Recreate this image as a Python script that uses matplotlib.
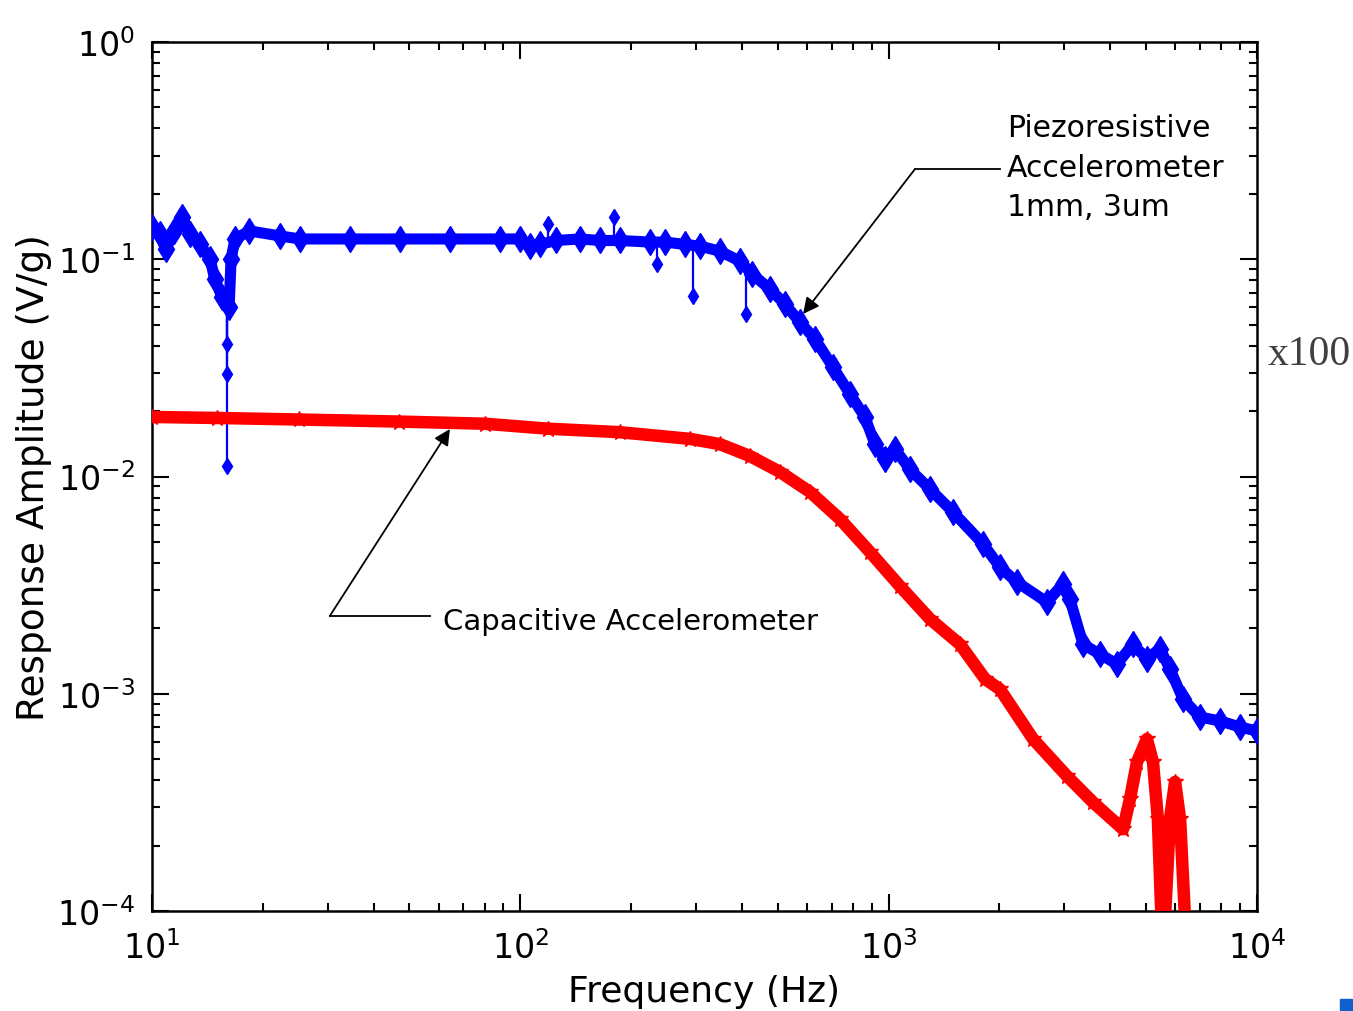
import numpy as np
import matplotlib.pyplot as plt
from matplotlib.patches import Rectangle
from matplotlib.ticker import LogLocator, NullFormatter

# === DATA ===
# piezoresistive accelerometer, 1mm 3um (blue band)
piezo_freq = [10.0, 10.5, 10.9, 11.5, 12.1, 12.7, 13.5, 14.4, 14.8, 15.5, 16.2, 16.4,
              16.8, 18.4, 22.3, 25.2, 34.5, 47.1, 64.4, 88.1, 100, 106, 113, 125,
              145, 165, 186, 225, 247, 280, 307, 348, 395, 426, 476, 523, 574, 631,
              706, 785, 862, 918, 977, 1040, 1142, 1295, 1495, 1805, 2005, 2228,
              2692, 2974, 3105, 3372, 3750, 4169, 4605, 5024, 5454, 5805, 6300,
              7003, 7937, 8993, 10000]
piezo_amp = [0.141, 0.131, 0.111, 0.135, 0.156, 0.131, 0.117, 0.100, 0.081, 0.067,
             0.060, 0.100, 0.124, 0.135, 0.128, 0.124, 0.124, 0.124, 0.124, 0.124,
             0.124, 0.115, 0.117, 0.122, 0.124, 0.122, 0.122, 0.120, 0.120, 0.117,
             0.115, 0.109, 0.098, 0.0855, 0.073, 0.0622, 0.0514, 0.0430, 0.0319,
             0.0240, 0.0188, 0.0141, 0.0120, 0.0134, 0.0108, 0.00876, 0.00687,
             0.00489, 0.00383, 0.00327, 0.00264, 0.0032, 0.00273, 0.00169, 0.00152,
             0.00137, 0.00169, 0.00145, 0.00161, 0.0013, 0.000946, 0.000781,
             0.00075, 0.000703, 0.000674]

# isolated outliers sticking out of the blue band
spike_freq = [16.0, 16.0, 16.0, 119, 180, 235, 294, 410]
spike_amp = [0.0407, 0.0296, 0.0112, 0.145, 0.156, 0.095, 0.068, 0.056]

# capacitive accelerometer (red band)
cap_freq = [10, 15, 25, 47, 80, 119, 186, 289, 348, 420, 507, 612, 738, 890, 1073,
            1295, 1562, 1827, 2005, 2467, 3050, 3586, 4329, 4522, 4725, 5024, 5222,
            5383, 5556, 5805, 5994, 6186, 6460]
cap_amp = [0.0188, 0.0186, 0.0183, 0.0179, 0.0175, 0.0166, 0.0160, 0.0149, 0.0141,
           0.01243, 0.0105, 0.00849, 0.00637, 0.00449, 0.00313, 0.00221, 0.00169,
           0.00117, 0.00105, 0.000619, 0.000418, 0.000317, 0.000238, 0.000328,
           0.000485, 0.000619, 0.000485, 0.000265, 0.00006, 0.000265, 0.000393,
           0.000265, 0.00006]

plt.rcParams['font.family'] = ['DejaVu Sans']
plt.rcParams['mathtext.default'] = 'regular'

fig = plt.figure(figsize=(13.53, 10.12), dpi=100)
ax = fig.add_axes([0.1123, 0.0988, 0.8167, 0.8587])

# blue curve + its spikes
base = 10 ** np.interp(np.log10(spike_freq), np.log10(piezo_freq), np.log10(piezo_amp))
ax.vlines(spike_freq, base, spike_amp, color='#0000ff', lw=1.6, zorder=2)
ax.plot(spike_freq, spike_amp, 'd', color='#0000ff', ms=8, zorder=2)
ax.plot(piezo_freq, piezo_amp, '-d', color='#0000ff', lw=8, ms=13, zorder=3)

# red curve
ax.plot(cap_freq, cap_amp, '-*', color='#ff0000', lw=9, ms=12, zorder=4)

ax.set_xscale('log')
ax.set_yscale('log')
ax.set_xlim(10, 1e4)
ax.set_ylim(1e-4, 1)

for axis in (ax.xaxis, ax.yaxis):
    axis.set_major_locator(LogLocator(base=10, numticks=10))
    axis.set_minor_locator(LogLocator(base=10, subs=np.arange(2, 10), numticks=10))
    axis.set_minor_formatter(NullFormatter())

ax.tick_params(which='both', direction='in', top=True, right=True, width=1.5)
ax.tick_params(which='major', length=12, labelsize=24)
ax.tick_params(which='minor', length=6)
ax.tick_params(axis='x', which='major', pad=14)
ax.tick_params(axis='y', which='major', pad=12)
for sp in ax.spines.values():
    sp.set_linewidth(1.8)

ax.set_xlabel('Frequency (Hz)', fontsize=26, labelpad=6)
ax.set_ylabel('Response Amplitude (V/g)', fontsize=27, labelpad=4)

# annotations
arrow = dict(arrowstyle='-|>', mutation_scale=24, lw=1.3, color='black',
             shrinkA=0, shrinkB=0)
ax.plot([1179, 2005], [0.260, 0.260], color='black', lw=1.3)
ax.annotate('', xy=(586, 0.056), xytext=(1179, 0.260), arrowprops=arrow)
ax.text(2094, 0.47, 'Piezoresistive\nAccelerometer\n1mm, 3um', fontsize=21.5,
        ha='left', va='top', linespacing=1.45)

ax.plot([30.4, 56.9], [0.00228, 0.00228], color='black', lw=1.3)
ax.annotate('', xy=(64.4, 0.01655), xytext=(30.4, 0.00228), arrowprops=arrow)
ax.text(61.7, 0.00216, 'Capacitive Accelerometer', fontsize=21,
        ha='left', va='center')

fig.text(0.937, 0.649, 'x100', fontsize=30, family='Liberation Serif',
         color='#404040', ha='left', va='center')
fig.patches.append(Rectangle((0.9904, 0.0), 0.0089, 0.0119, transform=fig.transFigure,
                             color='#1060d0', figure=fig))

fig.savefig('out.png', dpi=100)
